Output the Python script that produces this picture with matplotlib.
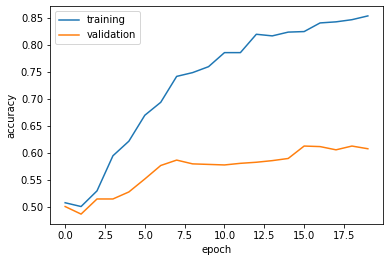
import matplotlib
matplotlib.use("Agg")
import matplotlib.pyplot as plt

epochs = list(range(20))
training = [0.508, 0.501, 0.530, 0.595, 0.622, 0.670, 0.694, 0.742, 0.749, 0.760,
            0.786, 0.786, 0.820, 0.817, 0.824, 0.825, 0.841, 0.843, 0.847, 0.854]
validation = [0.501, 0.487, 0.515, 0.515, 0.528, 0.552, 0.577, 0.587, 0.580, 0.579,
              0.578, 0.581, 0.583, 0.586, 0.590, 0.613, 0.612, 0.606, 0.613, 0.608]

fig = plt.figure(figsize=(392 / 72, 262 / 72), dpi=72)
ax = fig.add_axes([50 / 392, 1 - 224 / 262, 333 / 392, 218 / 262])

# accuracy curves
ax.plot(epochs, training, label="training")
ax.plot(epochs, validation, label="validation")
ax.set_xlabel("epoch")
ax.set_ylabel("accuracy")
ax.legend(loc="upper left")

fig.savefig("out.png", dpi=72)
